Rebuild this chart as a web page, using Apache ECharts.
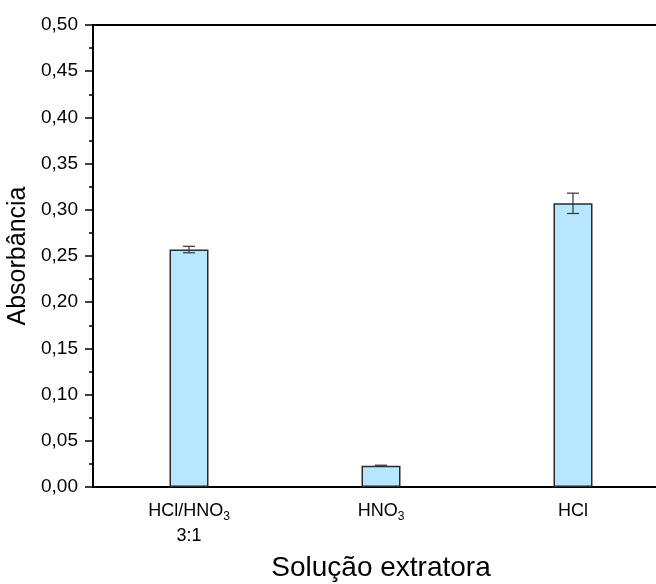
<!DOCTYPE html>
<html>
<head>
<meta charset="utf-8">
<script src="https://cdn.jsdelivr.net/npm/echarts@6/dist/echarts.min.js"></script>
<style>html,body{margin:0;padding:0;background:#fff}#c{width:656px;height:584px}</style>
</head>
<body>
<div id="c"></div>
<script>
var categories = ['HCl/HNO{s|3}\n3:1', 'HNO{s|3}', 'HCl'];
var values = [0.257, 0.023, 0.307];
var errors = [0.0035, 0.0006, 0.011];
var yTicks = { min: 0, max: 0.5, interval: 0.05 };

var chart = echarts.init(document.getElementById('c'));
var font = 'Liberation Sans, Arial, sans-serif';
chart.setOption({
  animation: false,
  grid: { left: 93, top: 25, right: -13, bottom: 97, containLabel: false, outerBoundsMode: 'none' },
  xAxis: [{
    type: 'category',
    data: categories,
    axisLine: { lineStyle: { color: '#000', width: 2 } },
    axisTick: { alignWithLabel: true, length: 8, lineStyle: { color: '#000', width: 1.5 } },
    axisLabel: {
      color: '#000', fontFamily: font, fontSize: 18, margin: 12, lineHeight: 25,
      rich: { s: { fontSize: 12, fontFamily: font, color: '#000', padding: [10, 0, 0, 0] } }
    },
    name: 'Solução extratora', nameLocation: 'middle', nameGap: 66,
    nameTextStyle: { color: '#000', fontFamily: font, fontSize: 28 }
  }, {
    type: 'category',
    data: categories,
    position: 'bottom',
    axisLine: { show: false },
    axisTick: { length: 4, lineStyle: { color: '#000', width: 1.5 } },
    axisLabel: { show: false }
  }, {
    type: 'category',
    data: categories,
    position: 'top',
    axisLine: { lineStyle: { color: '#000', width: 2 } },
    axisTick: { show: false },
    axisLabel: { show: false }
  }],
  yAxis: {
    type: 'value',
    min: yTicks.min, max: yTicks.max, interval: yTicks.interval,
    axisLine: { show: true, lineStyle: { color: '#000', width: 2 } },
    axisTick: { show: true, length: 8, lineStyle: { color: '#000', width: 1.5 } },
    minorTick: { show: true, splitNumber: 2, length: 4, lineStyle: { color: '#000', width: 1.5 } },
    splitLine: { show: false },
    axisLabel: {
      color: '#000', fontFamily: font, fontSize: 19, margin: 15,
      formatter: function (v) { return v.toFixed(2).replace('.', ','); }
    },
    name: 'Absorbância', nameLocation: 'middle', nameGap: 57,
    nameTextStyle: { color: '#000', fontFamily: font, fontSize: 25 }
  },
  series: [{
    type: 'bar',
    data: values,
    barWidth: 39,
    itemStyle: { color: '#b8e6fe', borderColor: '#2a2a2a', borderWidth: 1.5 }
  }, {
    type: 'custom',
    data: values.map(function (v, i) { return [i, v, errors[i]]; }),
    z: 5,
    renderItem: function (params, api) {
      var i = api.value(0), v = api.value(1), e = api.value(2);
      var hi = api.coord([i, v + e]);
      var lo = api.coord([i, v - e]);
      var w = 6;
      var st = { stroke: '#333', lineWidth: 1.2 };
      return {
        type: 'group',
        children: [
          { type: 'line', shape: { x1: hi[0], y1: hi[1], x2: lo[0], y2: lo[1] }, style: st },
          { type: 'line', shape: { x1: hi[0] - w, y1: hi[1], x2: hi[0] + w, y2: hi[1] }, style: st },
          { type: 'line', shape: { x1: lo[0] - w, y1: lo[1], x2: lo[0] + w, y2: lo[1] }, style: st }
        ]
      };
    }
  }]
});
</script>
</body>
</html>
